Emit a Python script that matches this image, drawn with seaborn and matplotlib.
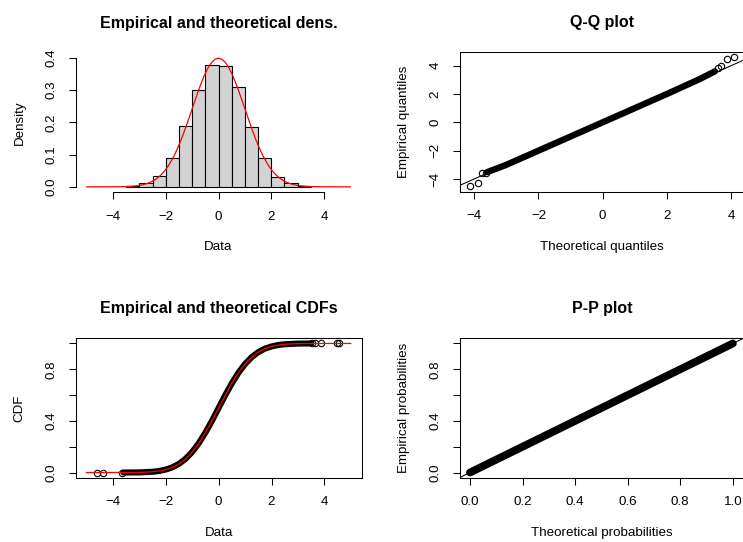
import math
import numpy as np
import pandas as pd
import matplotlib
matplotlib.use("Agg")
import matplotlib.pyplot as plt
import seaborn as sns

# ---------------- data ----------------
fit_mean = 0.0
fit_sd = 1.0

hist_edges = [-3.5, -3.0, -2.5, -2.0, -1.5, -1.0, -0.5, 0.0, 0.5, 1.0, 1.5, 2.0, 2.5, 3.0, 3.5]
hist_density = [0.004, 0.011, 0.033, 0.088, 0.189, 0.300, 0.379,
                0.374, 0.311, 0.187, 0.088, 0.032, 0.011, 0.004]

# Q-Q: dense band of points (theoretical, empirical) and separate tail points
qq_band_theo = [-3.60, -3.0, -2.0, -1.0, 0.0, 1.0, 2.0, 3.0, 3.50]
qq_band_emp = [-3.52, -3.0, -2.0, -1.0, 0.0, 1.0, 2.0, 3.03, 3.60]
qq_tail_theo = [-4.13, -3.875, -3.75, -3.64, 3.60, 3.69, 3.88, 4.10]
qq_tail_emp = [-4.50, -4.30, -3.60, -3.56, 3.81, 3.97, 4.47, 4.63]

# empirical CDF: dense band and tail points
cdf_band_x = [-3.6, -3.0, -2.5, -2.25, -2.0, -1.75, -1.5, -1.25, -1.0, -0.75, -0.5, -0.25,
              0.0, 0.25, 0.5, 0.75, 1.0, 1.25, 1.5, 1.75, 2.0, 2.25, 2.5, 3.0, 3.5]
cdf_band_y = [0.000, 0.001, 0.006, 0.012, 0.023, 0.040, 0.067, 0.106, 0.159, 0.227, 0.309, 0.401,
              0.500, 0.599, 0.691, 0.773, 0.841, 0.894, 0.933, 0.960, 0.977, 0.988, 0.994, 0.999, 1.000]
cdf_tail_x = [-4.61, -4.36, -3.65, 3.54, 3.66, 3.88, 4.46, 4.55]
cdf_tail_y = [0.0, 0.0, 0.0, 1.0, 1.0, 1.0, 1.0, 1.0]

# P-P band
pp_theo = [0.0, 0.25, 0.5, 0.75, 1.0]
pp_emp = [0.0, 0.25, 0.5, 0.75, 1.0]

# ---------------- style ----------------
sns.set_style("white")
plt.rcParams["font.family"] = ["Liberation Sans", "DejaVu Sans"]
plt.rcParams["axes.unicode_minus"] = True
plt.rcParams["text.color"] = "black"
plt.rcParams["axes.labelcolor"] = "black"
plt.rcParams["axes.titlecolor"] = "black"

W, H = 743, 542
fig = plt.figure(figsize=(W / 100, H / 100), dpi=100)

LAB = 9.6
TIT = 11.5


def add_ax(left, top, right, bottom):
    return fig.add_axes([left / W, 1 - bottom / H, (right - left) / W, (bottom - top) / H])


def style(ax, title, xlabel, ylabel, box=True):
    for s in ax.spines.values():
        s.set_visible(box)
        s.set_color("black")
        s.set_linewidth(0.75)
    ax.tick_params(axis="both", direction="out", length=5, width=0.75, colors="black",
                   labelsize=LAB, bottom=True, left=True)
    ax.tick_params(axis="x", pad=8.5)
    ax.tick_params(axis="y", pad=8.0)
    for lab in ax.get_yticklabels():
        lab.set_rotation(90)
        lab.set_va("center")
    ax.set_title(title, fontsize=TIT, fontweight="bold", pad=18, color="black")
    ax.set_xlabel(xlabel, fontsize=LAB, va="center", color="black")
    ax.set_ylabel(ylabel, fontsize=LAB, va="center", color="black")
    bb = ax.get_position()
    ax.xaxis.set_label_coords(0.5, -55 / (bb.height * H))
    ax.yaxis.set_label_coords(-56 / (bb.width * W), 0.5)


xgrid = np.linspace(-5, 5, 401)
pdf = np.exp(-0.5 * ((xgrid - fit_mean) / fit_sd) ** 2) / (fit_sd * math.sqrt(2 * math.pi))
cdf = np.array([0.5 * (1 + math.erf((v - fit_mean) / (fit_sd * math.sqrt(2)))) for v in xgrid])

# ---- top-left: density ----
ax1 = add_ax(76, 52.8, 361, 192)
centers = [(a + b) / 2 for a, b in zip(hist_edges[:-1], hist_edges[1:])]
sns.histplot(x=centers, weights=hist_density, bins=hist_edges, stat="count", ax=ax1,
             color="#D3D3D3", edgecolor="black", linewidth=0.8, alpha=1)
sns.lineplot(x=xgrid, y=pdf, ax=ax1, color="red", linewidth=0.9)
ax1.set_xlim(-5.4, 5.4)
ax1.set_ylim(-0.016, 0.416)
ax1.set_xticks([-4, -2, 0, 2, 4])
ax1.set_yticks([0.0, 0.1, 0.2, 0.3, 0.4])
ax1.set_yticklabels(["0.0", "0.1", "0.2", "0.3", "0.4"])
style(ax1, "Empirical and theoretical dens.", "Data", "Density", box=False)
ax1.spines["left"].set_visible(True)
ax1.spines["bottom"].set_visible(True)
ax1.spines["left"].set_bounds(0, 0.4)
ax1.spines["bottom"].set_bounds(-4, 4)

# ---- top-right: Q-Q ----
ax2 = add_ax(459.7, 52.3, 745, 191.7)
ax2.axline((0, 0), slope=1, color="black", linewidth=0.75)
sns.lineplot(x=qq_band_theo, y=qq_band_emp, ax=ax2, color="black", linewidth=4.6,
             sort=False, estimator=None, solid_capstyle="round", solid_joinstyle="round")
sns.lineplot(x=qq_tail_theo, y=qq_tail_emp, ax=ax2, linestyle="", marker="o", markersize=4.6,
             markerfacecolor="none", markeredgecolor="black", markeredgewidth=0.8,
             sort=False, estimator=None)
ax2.set_xlim(-4.455, 4.44)
ax2.set_ylim(-4.9, 4.95)
ax2.set_xticks([-4, -2, 0, 2, 4])
ax2.set_yticks([-4, -2, 0, 2, 4])
style(ax2, "Q-Q plot", "Theoretical quantiles", "Empirical quantiles")

# ---- bottom-left: CDF ----
ax3 = add_ax(75.7, 338.3, 361.5, 477.7)
sns.lineplot(x=cdf_band_x, y=cdf_band_y, ax=ax3, color="black", linewidth=4.4,
             sort=False, estimator=None, solid_capstyle="round", solid_joinstyle="round")
sns.lineplot(x=cdf_tail_x, y=cdf_tail_y, ax=ax3, linestyle="", marker="o", markersize=4.6,
             markerfacecolor="none", markeredgecolor="black", markeredgewidth=0.8,
             sort=False, estimator=None)
sns.lineplot(x=xgrid, y=cdf, ax=ax3, color="red", linewidth=0.9)
ax3.set_xlim(-5.4, 5.4)
ax3.set_ylim(-0.04, 1.04)
ax3.set_xticks([-4, -2, 0, 2, 4])
ax3.set_yticks([0.0, 0.2, 0.4, 0.6, 0.8, 1.0])
ax3.set_yticklabels(["0.0", "", "0.4", "", "0.8", ""])
style(ax3, "Empirical and theoretical CDFs", "Data", "CDF")

# ---- bottom-right: P-P ----
ax4 = add_ax(459.7, 338.3, 744.2, 477.7)
ax4.axline((0, 0), slope=1, color="black", linewidth=0.75)
sns.lineplot(x=pp_theo, y=pp_emp, ax=ax4, color="black", linewidth=5.6,
             sort=False, estimator=None, solid_capstyle="round", solid_joinstyle="round")
ax4.set_xlim(-0.039, 1.043)
ax4.set_ylim(-0.04, 1.04)
ax4.set_xticks([0.0, 0.2, 0.4, 0.6, 0.8, 1.0])
ax4.set_xticklabels(["0.0", "0.2", "0.4", "0.6", "0.8", "1.0"])
ax4.set_yticks([0.0, 0.2, 0.4, 0.6, 0.8, 1.0])
ax4.set_yticklabels(["0.0", "", "0.4", "", "0.8", ""])
style(ax4, "P-P plot", "Theoretical probabilities", "Empirical probabilities")

fig.savefig("out.png", dpi=100)
